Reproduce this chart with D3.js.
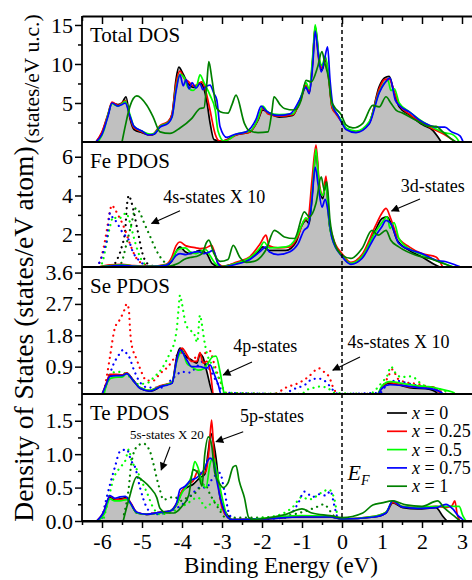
<!DOCTYPE html>
<html>
<head>
<meta charset="utf-8">
<script src="https://cdn.jsdelivr.net/npm/d3@7"></script>
<style>
  body { margin: 0; background: #fff; }
  svg { display: block; font-family: "Liberation Serif", "Times New Roman", serif; }
</style>
</head>
<body>
<svg id="chart" width="472" height="580"></svg>
<script>
'use strict'

// ---- data (binding energy in eV, DOS values) ----
const energyRange = [-6.5, 3.25]
const energyMajor = [-6, -5, -4, -3, -2, -1, 0, 1, 2, 3]
const energyMinor = [-6.5, -5.5, -4.5, -3.5, -2.5, -1.5, -0.5, 0.5, 1.5, 2.5]
const seriesLabels = ['0', '0.25', '0.5', '0.75', '1']

// Total DOS
const totX0 = [[-6.15,0],[-6.0,1.2],[-5.85,3.5],[-5.75,5.0],[-5.6,4.8],[-5.5,5.0],[-5.4,5.8],[-5.3,3.0],[-5.2,1.6],[-5.0,1.2],[-4.8,0.9],[-4.7,1.0],[-4.55,2.0],[-4.35,2.6],[-4.25,3.5],[-4.15,8.0],[-4.08,9.6],[-3.98,8.8],[-3.85,7.5],[-3.7,7.0],[-3.55,7.6],[-3.45,6.8],[-3.38,5.2],[-3.3,2.5],[-3.2,0.3],[-3.0,0.1],[-2.65,0.9],[-2.3,1.3],[-2.1,2.8],[-1.98,4.1],[-1.82,3.7],[-1.57,3.2],[-1.23,3.4],[-1.02,5.8],[-0.9,7.1],[-0.82,6.3],[-0.73,10.5],[-0.67,14.8],[-0.57,10.5],[-0.5,9.2],[-0.42,10.5],[-0.33,8.4],[-0.25,4.5],[-0.15,3.7],[0,2.6],[0.1,1.75],[0.35,1.3],[0.68,2.4],[0.93,7.1],[1.06,8.2],[1.18,8.4],[1.31,6.2],[1.43,4.5],[1.68,3.5],[2.02,2.2],[2.27,1.5],[2.39,0.7],[2.48,0]]
const totX025 = [[-6.15,0],[-6.0,1.3],[-5.85,3.6],[-5.75,5.1],[-5.6,4.7],[-5.5,5.0],[-5.42,5.3],[-5.3,3.2],[-5.2,1.8],[-5.0,1.3],[-4.8,0.9],[-4.7,1.1],[-4.55,2.1],[-4.35,2.6],[-4.25,3.6],[-4.15,7.5],[-4.05,9.1],[-3.95,8.2],[-3.85,7.8],[-3.72,7.2],[-3.6,7.4],[-3.5,7.7],[-3.4,6.4],[-3.3,4.1],[-3.17,1.0],[-3.05,0.1],[-2.85,0.3],[-2.65,0.9],[-2.3,1.3],[-2.1,2.9],[-1.98,4.3],[-1.85,3.6],[-1.57,3.3],[-1.23,3.5],[-1.02,5.6],[-0.9,7.3],[-0.82,6.5],[-0.73,10.8],[-0.67,14.6],[-0.57,10.2],[-0.5,9.5],[-0.42,10.8],[-0.33,8.0],[-0.25,4.4],[-0.15,3.6],[0,2.5],[0.1,1.7],[0.35,1.3],[0.68,2.5],[0.93,6.8],[1.06,8.0],[1.18,8.1],[1.31,6.4],[1.43,4.8],[1.68,3.6],[2.02,2.4],[2.3,1.6],[2.55,1.0],[2.7,0.5],[2.83,0]]
const totX05 = [[-6.1,0],[-5.95,1.5],[-5.85,3.5],[-5.75,4.9],[-5.6,4.6],[-5.5,4.9],[-5.42,5.2],[-5.3,3.5],[-5.2,2.0],[-5.0,1.4],[-4.8,1.0],[-4.7,1.1],[-4.55,2.0],[-4.35,2.5],[-4.25,3.2],[-4.15,6.8],[-4.05,8.7],[-3.95,8.3],[-3.85,7.0],[-3.72,6.6],[-3.62,7.4],[-3.55,8.6],[-3.45,7.6],[-3.3,6.0],[-3.17,4.1],[-3.1,1.4],[-2.95,0.1],[-2.8,0.4],[-2.65,1.0],[-2.3,1.4],[-2.1,3.0],[-1.98,4.6],[-1.85,3.8],[-1.57,3.5],[-1.23,3.6],[-1.02,5.9],[-0.9,7.6],[-0.82,6.8],[-0.73,11.2],[-0.67,15.0],[-0.57,10.8],[-0.5,9.8],[-0.42,11.0],[-0.33,8.4],[-0.25,4.8],[-0.15,3.8],[0,2.7],[0.1,1.8],[0.35,1.4],[0.68,2.6],[0.93,6.4],[1.06,7.6],[1.15,7.9],[1.22,6.6],[1.31,6.8],[1.43,5.0],[1.68,3.9],[2.02,2.6],[2.3,1.8],[2.55,1.2],[2.75,1.0],[2.85,0.6],[2.93,0]]
const totX075 = [[-6.15,0],[-6.0,1.0],[-5.85,3.3],[-5.75,5.0],[-5.6,4.6],[-5.5,4.8],[-5.42,5.0],[-5.3,3.3],[-5.2,2.0],[-5.0,1.4],[-4.85,0.9],[-4.7,1.0],[-4.55,1.9],[-4.35,2.4],[-4.25,3.2],[-4.15,6.5],[-4.05,8.6],[-3.97,7.2],[-3.9,8.0],[-3.82,6.8],[-3.75,7.6],[-3.65,6.9],[-3.55,7.5],[-3.48,6.7],[-3.4,7.1],[-3.3,7.3],[-3.2,6.2],[-3.13,5.4],[-3.05,2.0],[-2.88,0.6],[-2.67,1.0],[-2.4,1.3],[-2.15,2.9],[-2.02,4.6],[-1.9,4.0],[-1.6,3.4],[-1.3,3.6],[-1.05,5.5],[-0.9,7.0],[-0.82,6.2],[-0.73,10.0],[-0.67,14.2],[-0.6,11.5],[-0.52,9.0],[-0.44,10.5],[-0.36,12.2],[-0.3,8.0],[-0.22,4.5],[-0.1,3.4],[0,2.4],[0.1,1.6],[0.35,1.2],[0.68,2.3],[0.93,6.3],[1.06,7.5],[1.2,8.2],[1.33,5.4],[1.45,4.6],[1.7,3.8],[1.91,2.9],[2.2,2.1],[2.4,1.9],[2.57,1.9],[2.74,1.3],[2.95,0.8],[3.03,0]]
const totX1 = [[-5.5,0],[-5.42,2.0],[-5.3,4.6],[-5.13,5.9],[-4.88,4.7],[-4.72,3.2],[-4.55,1.3],[-4.3,1.1],[-4.05,1.8],[-3.76,3.0],[-3.55,4.3],[-3.45,4.4],[-3.38,7.5],[-3.33,10.3],[-3.25,8.0],[-3.13,4.3],[-2.97,3.75],[-2.85,3.7],[-2.75,4.8],[-2.65,6.0],[-2.44,2.4],[-2.33,1.5],[-2.1,1.2],[-1.85,1.3],[-1.75,4.0],[-1.7,5.8],[-1.55,4.8],[-1.44,4.3],[-1.19,4.1],[-1.02,5.4],[-0.9,7.9],[-0.77,7.7],[-0.61,9.6],[-0.5,11.6],[-0.44,10.3],[-0.33,8.0],[-0.27,5.4],[-0.19,4.5],[-0.02,3.5],[0.1,2.2],[0.27,1.8],[0.52,2.4],[0.77,4.7],[0.93,4.5],[1.1,5.8],[1.22,5.0],[1.35,4.1],[1.52,3.7],[1.85,2.8],[2.18,2.0],[2.35,2.0],[2.52,1.3],[2.77,0.25],[2.85,0]]

// Fe PDOS (3d, solid) and 4s x10 (dotted)
const feX0 = [[-6.1,0.3],[-5.8,0.38],[-5.5,0.4],[-5.2,0.35],[-4.8,0.33],[-4.4,0.4],[-4.26,0.6],[-4.15,1.1],[-4.05,1.35],[-3.92,1.1],[-3.8,1.0],[-3.65,1.1],[-3.55,1.17],[-3.45,1.1],[-3.38,1.0],[-3.25,0.5],[-3.05,0.32],[-2.85,0.4],[-2.65,0.49],[-2.3,0.75],[-2.1,1.1],[-1.98,1.35],[-1.82,1.17],[-1.4,1.17],[-1.15,1.6],[-1.02,2.38],[-0.9,2.72],[-0.82,2.55],[-0.73,4.44],[-0.65,6.33],[-0.57,4.44],[-0.48,3.84],[-0.4,4.8],[-0.32,2.55],[-0.22,1.7],[0,0.92],[0.22,0.49],[0.5,0.83],[0.83,2.2],[1.0,2.81],[1.13,2.9],[1.26,2.38],[1.38,1.69],[1.68,1.17],[2.0,0.83],[2.35,0.4],[2.45,0.3]]
const feX025 = [[-6.1,0.3],[-5.8,0.42],[-5.5,0.45],[-5.2,0.38],[-4.8,0.35],[-4.4,0.45],[-4.26,0.8],[-4.15,1.4],[-4.05,1.6],[-3.9,1.4],[-3.8,1.35],[-3.65,1.3],[-3.55,1.26],[-3.4,1.3],[-3.26,1.43],[-3.1,0.5],[-2.95,0.35],[-2.65,0.55],[-2.3,0.85],[-2.05,1.5],[-1.9,1.95],[-1.82,1.4],[-1.6,1.3],[-1.3,1.35],[-1.1,1.9],[-0.95,2.7],[-0.85,2.8],[-0.75,4.8],[-0.65,6.6],[-0.57,4.7],[-0.48,4.0],[-0.4,5.0],[-0.32,2.7],[-0.22,1.8],[0,1.0],[0.22,0.55],[0.5,0.95],[0.83,2.4],[1.0,3.1],[1.1,3.33],[1.22,2.8],[1.38,1.9],[1.68,1.35],[2.0,1.0],[2.35,0.83],[2.52,0.3]]
const feX05 = [[-6.1,0.3],[-5.8,0.38],[-5.5,0.42],[-5.2,0.36],[-4.8,0.34],[-4.4,0.42],[-4.26,0.65],[-4.15,1.1],[-4.05,1.25],[-3.92,1.3],[-3.8,1.1],[-3.65,1.0],[-3.5,1.15],[-3.4,1.2],[-3.3,0.9],[-3.15,0.45],[-3.0,0.33],[-2.65,0.5],[-2.3,0.8],[-2.05,1.3],[-1.95,1.6],[-1.82,1.3],[-1.4,1.35],[-1.15,1.8],[-1.0,2.5],[-0.9,2.85],[-0.82,2.7],[-0.73,4.5],[-0.65,6.4],[-0.57,4.5],[-0.48,4.0],[-0.4,4.6],[-0.32,2.6],[-0.22,1.6],[0,0.9],[0.22,0.5],[0.5,0.85],[0.83,2.1],[1.0,2.6],[1.13,2.9],[1.2,2.3],[1.3,2.6],[1.42,1.8],[1.68,1.25],[2.0,0.95],[2.35,0.65],[2.6,0.45],[2.8,0.3]]
const feX075 = [[-6.1,0.3],[-5.8,0.36],[-5.5,0.4],[-5.2,0.35],[-4.8,0.33],[-4.4,0.4],[-4.26,0.6],[-4.15,0.9],[-4.05,1.0],[-3.9,0.95],[-3.75,1.05],[-3.59,1.1],[-3.45,1.0],[-3.3,1.1],[-3.22,1.17],[-3.1,0.5],[-3.0,0.32],[-2.65,0.45],[-2.3,0.7],[-2.05,1.1],[-1.9,1.35],[-1.82,1.1],[-1.6,0.95],[-1.3,1.1],[-1.1,1.5],[-0.95,2.2],[-0.85,2.4],[-0.75,3.8],[-0.67,5.47],[-0.6,4.6],[-0.5,3.4],[-0.42,3.8],[-0.35,3.2],[-0.25,1.8],[0,0.85],[0.22,0.45],[0.5,0.75],[0.83,1.9],[1.0,2.4],[1.1,2.72],[1.22,2.55],[1.42,1.52],[1.7,1.2],[2.0,1.0],[2.35,0.66],[2.6,0.58],[2.85,0.4],[3.1,0.2]]
const feX1 = [[-4.4,0.3],[-4.22,0.4],[-4.09,0.5],[-3.95,0.7],[-3.8,0.8],[-3.65,0.85],[-3.5,1.0],[-3.38,1.6],[-3.33,1.7],[-3.2,1.0],[-3.05,0.6],[-2.85,0.7],[-2.72,1.43],[-2.55,0.8],[-2.4,0.55],[-2.2,0.6],[-1.9,1.2],[-1.69,2.2],[-1.44,1.86],[-1.19,1.78],[-0.94,3.15],[-0.82,2.9],[-0.65,3.6],[-0.52,4.96],[-0.44,4.27],[-0.38,4.7],[-0.3,2.72],[-0.18,1.52],[0,0.92],[0.22,0.75],[0.5,1.26],[0.75,2.2],[0.9,1.95],[1.1,2.2],[1.22,1.69],[1.42,1.35],[1.85,0.92],[2.18,0.75],[2.52,0.5],[2.78,0.3]]
const feS0 = [[-5.75,0.3],[-5.63,0.66],[-5.5,1.4],[-5.42,2.2],[-5.38,3.4],[-5.33,4.0],[-5.27,3.7],[-5.22,3.3],[-5.13,2.4],[-5.08,1.9],[-5.0,1.1],[-4.87,0.5],[-4.7,0.35]]
const feS025 = [[-6.15,0.3],[-6.05,0.6],[-5.95,1.4],[-5.88,2.2],[-5.8,3.2],[-5.76,3.5],[-5.68,3.3],[-5.6,3.0],[-5.5,2.6],[-5.42,2.2],[-5.3,1.5],[-5.15,0.8],[-4.95,0.45],[-4.7,0.32]]
const feS05 = [[-6.1,0.3],[-6.0,0.5],[-5.9,1.4],[-5.8,2.4],[-5.72,2.9],[-5.62,2.8],[-5.5,2.9],[-5.4,3.1],[-5.3,2.6],[-5.2,1.8],[-5.1,1.1],[-4.95,0.5],[-4.75,0.32]]
const feS075 = [[-6.15,0.3],[-6.05,0.6],[-5.95,1.2],[-5.88,1.7],[-5.8,3.1],[-5.72,2.8],[-5.62,2.6],[-5.55,2.3],[-5.45,2.0],[-5.33,1.7],[-5.25,1.2],[-5.05,0.6],[-4.85,0.35]]
const feS1 = [[-5.6,0.3],[-5.5,0.6],[-5.4,1.4],[-5.28,2.4],[-5.15,3.35],[-5.05,3.1],[-4.95,2.6],[-4.8,1.9],[-4.65,1.2],[-4.5,0.7],[-4.3,0.4],[-4.1,0.32]]

// Se PDOS (4p, solid) and 4s x10 (dotted)
const seX0 = [[-6.0,0.1],[-5.9,0.35],[-5.8,0.66],[-5.65,0.66],[-5.5,0.66],[-5.38,0.71],[-5.22,0.52],[-5.05,0.28],[-4.8,0.2],[-4.65,0.25],[-4.55,0.33],[-4.25,0.43],[-4.13,1.19],[-4.05,1.43],[-3.9,1.19],[-3.76,1.09],[-3.63,1.0],[-3.55,1.26],[-3.48,1.18],[-3.38,0.76],[-3.25,0.17],[-3.2,0.05],[0.85,0.05],[1.0,0.3],[1.14,0.42],[1.35,0.4],[1.68,0.3],[2.2,0.25],[2.35,0.17],[2.45,0.05]]
const seX025 = [[-6.0,0.1],[-5.9,0.4],[-5.8,0.68],[-5.65,0.68],[-5.5,0.66],[-5.38,0.72],[-5.22,0.5],[-5.05,0.3],[-4.8,0.22],[-4.55,0.35],[-4.25,0.45],[-4.13,1.1],[-4.0,1.43],[-3.88,1.25],[-3.76,1.05],[-3.63,1.05],[-3.55,1.3],[-3.47,1.0],[-3.38,1.05],[-3.3,0.8],[-3.2,0.05],[0.85,0.05],[1.0,0.32],[1.15,0.45],[1.4,0.4],[1.7,0.32],[2.27,0.32],[2.4,0.2],[2.5,0.05]]
const seX05 = [[-5.95,0.1],[-5.88,0.4],[-5.77,0.57],[-5.6,0.6],[-5.5,0.6],[-5.38,0.7],[-5.22,0.5],[-5.05,0.3],[-4.8,0.22],[-4.55,0.33],[-4.25,0.45],[-4.13,1.05],[-4.0,1.35],[-3.88,1.0],[-3.76,0.9],[-3.6,0.8],[-3.45,0.85],[-3.38,0.95],[-3.22,1.19],[-3.15,1.2],[-3.05,0.76],[-2.95,0.15],[-2.9,0.05],[0.85,0.05],[1.0,0.35],[1.2,0.47],[1.5,0.42],[1.9,0.35],[2.3,0.3],[2.6,0.22],[2.8,0.15],[2.85,0.05]]
const seX075 = [[-6.0,0.1],[-5.9,0.38],[-5.8,0.62],[-5.65,0.64],[-5.5,0.64],[-5.38,0.7],[-5.22,0.5],[-5.05,0.28],[-4.8,0.2],[-4.55,0.32],[-4.25,0.42],[-4.13,1.1],[-4.05,1.38],[-3.88,1.09],[-3.76,0.9],[-3.55,0.9],[-3.38,0.85],[-3.3,0.95],[-3.2,0.7],[-3.1,0.4],[-3.0,0.05],[0.85,0.05],[1.0,0.28],[1.2,0.38],[1.5,0.36],[1.9,0.3],[2.3,0.25],[2.5,0.15],[2.55,0.05]]
const seS025 = [[-5.95,0.2],[-5.88,0.62],[-5.8,1.19],[-5.68,2.0],[-5.55,2.26],[-5.45,2.5],[-5.38,2.7],[-5.33,2.55],[-5.3,2.0],[-5.27,1.6],[-5.13,1.1],[-5.05,0.85],[-4.88,0.5],[-4.72,0.5],[-4.55,0.7],[-4.35,0.9],[-4.15,1.2],[-4.0,1.3],[-3.8,1.1],[-3.6,1.2],[-3.4,1.3],[-3.3,1.35],[-3.2,1.0],[-3.05,0.5],[-2.9,0.15],[-1.7,0.12],[-1.4,0.3],[-1.05,0.45],[-0.85,0.6],[-0.57,0.85],[-0.45,0.75],[-0.32,0.6],[-0.2,0.25],[-0.1,0.12],[0.9,0.12],[1.0,0.3],[1.15,0.6],[1.26,0.82],[1.4,0.55],[1.6,0.45],[1.9,0.4],[2.2,0.3],[2.45,0.2],[2.6,0.12]]
const seS05 = [[-5.95,0.2],[-5.88,0.45],[-5.8,0.7],[-5.6,0.75],[-5.45,0.72],[-5.3,0.6],[-5.1,0.4],[-4.87,0.43],[-4.7,0.6],[-4.5,0.85],[-4.3,1.3],[-4.17,1.7],[-4.12,2.1],[-4.09,2.5],[-4.05,2.95],[-4.0,2.7],[-3.9,2.1],[-3.8,1.95],[-3.7,1.85],[-3.62,1.6],[-3.55,2.38],[-3.5,2.1],[-3.45,1.7],[-3.38,1.3],[-3.22,0.9],[-3.05,0.5],[-2.9,0.15],[-1.0,0.12],[-0.9,0.22],[-0.75,0.28],[-0.55,0.33],[-0.35,0.28],[-0.2,0.15],[0.7,0.12],[0.85,0.25],[1.0,0.45],[1.14,0.66],[1.22,0.9],[1.35,0.7],[1.48,0.6],[1.7,0.62],[1.85,0.55],[2.0,0.38],[2.35,0.28],[2.7,0.15]]
const seS075 = [[-5.95,0.2],[-5.8,0.7],[-5.72,0.95],[-5.6,1.2],[-5.47,1.38],[-5.4,1.3],[-5.33,1.2],[-5.2,0.8],[-5.05,0.45],[-4.85,0.3],[-4.5,0.3],[-4.2,0.6],[-4.0,0.75],[-3.8,0.73],[-3.65,0.88],[-3.47,1.05],[-3.3,0.8],[-3.1,0.4],[-2.95,0.15],[-1.4,0.12],[-1.3,0.2],[-0.9,0.4],[-0.73,0.55],[-0.52,0.55],[-0.35,0.4],[-0.2,0.2],[-0.1,0.12],[0.95,0.15],[1.1,0.35],[1.35,0.5],[1.55,0.45],[1.9,0.35],[2.3,0.25],[2.5,0.15]]

// Te PDOS (5p, solid) and 5s x20 (dotted)
const teX0 = [[-6.13,0],[-5.97,0.11],[-5.8,0.36],[-5.68,0.32],[-5.55,0.33],[-5.38,0.35],[-5.27,0.25],[-5.13,0.12],[-4.88,0.1],[-4.55,0.13],[-4.3,0.15],[-4.13,0.25],[-4.0,0.44],[-3.88,0.5],[-3.72,0.55],[-3.55,0.65],[-3.43,0.7],[-3.34,1.06],[-3.28,1.31],[-3.22,1.2],[-3.13,0.85],[-3.05,0.35],[-2.85,0.08],[-2.75,0.02],[-2.0,0.03],[-1.0,0.06],[-0.3,0.06],[0,0.03],[0.8,0.06],[1.1,0.12],[1.27,0.27],[1.52,0.2],[1.9,0.18],[2.35,0.2],[2.52,0.07],[2.62,0]]
const teX025 = [[-6.13,0],[-5.97,0.12],[-5.8,0.37],[-5.68,0.33],[-5.55,0.32],[-5.38,0.34],[-5.27,0.26],[-5.13,0.13],[-4.88,0.1],[-4.55,0.13],[-4.3,0.15],[-4.13,0.27],[-4.0,0.45],[-3.85,0.55],[-3.72,0.6],[-3.6,0.75],[-3.5,0.7],[-3.4,0.75],[-3.32,1.1],[-3.26,1.51],[-3.2,1.0],[-3.1,0.6],[-3.0,0.2],[-2.85,0.05],[-2.75,0.02],[-2.0,0.03],[-1.0,0.07],[-0.3,0.07],[0,0.03],[0.8,0.07],[1.1,0.13],[1.27,0.28],[1.5,0.22],[1.9,0.2],[2.35,0.22],[2.6,0.2],[2.75,0.23],[2.82,0.3],[2.88,0.1],[2.95,0]]
const teX05 = [[-6.1,0],[-5.95,0.1],[-5.8,0.33],[-5.68,0.3],[-5.55,0.3],[-5.38,0.32],[-5.27,0.24],[-5.13,0.12],[-4.88,0.1],[-4.55,0.12],[-4.3,0.15],[-4.13,0.25],[-4.0,0.42],[-3.85,0.55],[-3.75,0.7],[-3.68,0.89],[-3.6,0.8],[-3.5,0.58],[-3.4,0.5],[-3.3,0.85],[-3.22,0.95],[-3.1,0.65],[-2.97,0.28],[-2.85,0.05],[-2.75,0.02],[-2.0,0.04],[-1.0,0.08],[-0.3,0.07],[0,0.03],[0.8,0.07],[1.1,0.13],[1.27,0.3],[1.5,0.22],[1.9,0.2],[2.35,0.22],[2.7,0.22],[2.93,0.22],[3.02,0.08],[3.1,0]]
const teX075 = [[-6.13,0],[-5.97,0.12],[-5.8,0.38],[-5.68,0.34],[-5.55,0.36],[-5.42,0.37],[-5.3,0.28],[-5.13,0.13],[-4.88,0.1],[-4.55,0.13],[-4.3,0.15],[-4.13,0.28],[-4.05,0.47],[-3.92,0.52],[-3.8,0.6],[-3.63,0.65],[-3.47,0.75],[-3.3,0.94],[-3.22,0.9],[-3.13,0.6],[-3.0,0.25],[-2.85,0.05],[-2.75,0.02],[-2.0,0.03],[-1.0,0.06],[-0.3,0.06],[0,0.03],[0.8,0.06],[1.1,0.12],[1.27,0.3],[1.5,0.21],[1.9,0.19],[2.35,0.2],[2.6,0.25],[2.77,0.18],[2.9,0.08],[3.0,0.03],[3.05,0]]
const teX1 = [[-5.47,0],[-5.33,0.32],[-5.13,0.66],[-4.97,0.6],[-4.8,0.5],[-4.63,0.35],[-4.55,0.19],[-4.38,0.12],[-4.2,0.12],[-4.0,0.22],[-3.83,0.39],[-3.72,0.77],[-3.6,0.72],[-3.5,0.52],[-3.43,1.0],[-3.34,1.26],[-3.26,1.14],[-3.18,0.72],[-3.05,0.55],[-2.97,0.5],[-2.85,0.57],[-2.72,0.81],[-2.65,0.83],[-2.57,0.6],[-2.44,0.35],[-2.33,0.05],[-2.2,0.02],[-1.82,0.05],[-1.4,0.1],[-1.0,0.18],[-0.75,0.12],[-0.3,0.08],[0,0.05],[0.52,0.12],[0.77,0.24],[1.0,0.27],[1.26,0.3],[1.6,0.24],[2.0,0.22],[2.39,0.3],[2.55,0.2],[2.85,0.05],[2.95,0]]
const teS05 = [[-5.95,0.05],[-5.85,0.3],[-5.72,0.62],[-5.55,0.8],[-5.42,0.9],[-5.33,1.07],[-5.27,0.92],[-5.13,0.77],[-5.05,0.65],[-4.88,0.43],[-4.72,0.2],[-4.55,0.1],[-4.2,0.15],[-3.9,0.25],[-3.6,0.35],[-3.4,0.2],[-3.2,0.3],[-3.0,0.15],[-2.6,0.03],[-1.72,0.07],[-1.23,0.21],[-1.0,0.36],[-0.83,0.32],[-0.67,0.36],[-0.5,0.43],[-0.33,0.47],[-0.2,0.35],[-0.15,0.2],[-0.1,0]]
const teS075 = [[-6.0,0.05],[-5.88,0.36],[-5.68,0.8],[-5.55,1.04],[-5.38,1.07],[-5.27,0.9],[-5.17,0.8],[-5.05,0.5],[-4.88,0.2],[-4.7,0.1],[-4.3,0.15],[-3.93,0.28],[-3.75,0.4],[-3.55,0.5],[-3.4,0.5],[-3.22,0.65],[-3.05,0.72],[-2.95,0.48],[-2.8,0.08],[-2.6,0.02],[-1.4,0.05],[-1.1,0.26],[-0.94,0.44],[-0.73,0.36],[-0.57,0.4],[-0.4,0.38],[-0.29,0.45],[-0.2,0.25],[-0.12,0.05]]
const teS1 = [[-5.45,0.1],[-5.33,0.5],[-5.27,0.85],[-5.13,1.11],[-4.97,1.16],[-4.8,1.04],[-4.72,0.87],[-4.63,0.64],[-4.55,0.46],[-4.47,0.32],[-4.2,0.36],[-4.0,0.3],[-3.88,0.35],[-3.7,0.4],[-3.55,0.5],[-3.43,0.55],[-3.3,0.4],[-3.1,0.2],[-2.9,0.05],[-1.6,0.05],[-1.2,0.1],[-0.9,0.15],[-0.67,0.2],[-0.45,0.25],[-0.3,0.15],[-0.15,0.03]]

// ---- layout / style ----
const plotLeft = 82, plotRight = 472
const colors = ['#000000', '#ff0000', '#00ff00', '#0000ff', '#008000']

const panels = [
  { label: 'Total DOS', top: 16, bottom: 142, domain: [0, 16.15], major: [5, 10, 15], minor: [2.5, 7.5, 12.5], fmt: d => String(d),
    solid: [totX0, totX025, totX05, totX075, totX1], dotted: [] },
  { label: 'Fe PDOS', top: 142, bottom: 267, domain: [0.31, 6.76], major: [2, 4, 6], minor: [1, 3, 5], fmt: d => String(d),
    solid: [feX0, feX025, feX05, feX075, feX1], dotted: [feS0, feS025, feS05, feS075, feS1] },
  { label: 'Se PDOS', top: 267, bottom: 394, domain: [0.115, 3.76], major: [0.9, 1.8, 2.7, 3.6], minor: [0.45, 1.35, 2.25, 3.15], fmt: d3.format('.1f'),
    solid: [seX0, seX025, seX05, seX075, null], dotted: [null, seS025, seS05, seS075, null] },
  { label: 'Te PDOS', top: 394, bottom: 521, domain: [0, 1.9], major: [0, 0.5, 1, 1.5], minor: [0.25, 0.75, 1.25, 1.75], fmt: d3.format('.1f'),
    solid: [teX0, teX025, teX05, teX075, teX1], dotted: [null, null, teS05, teS075, teS1] }
]

// annotations in data coordinates of each panel: text position, arrow tail, arrow head
const notes = [
  { panel: 1, text: '4s-states X 10', size: 18, at: [-4.47, 3.61], from: [-4.05, 3.21], to: [-4.76, 2.56] },
  { panel: 1, text: '3d-states', size: 18, at: [1.47, 4.19], from: [1.95, 3.82], to: [1.24, 3.2] },
  { panel: 2, text: '4p-states', size: 18, at: [-2.72, 1.33], from: [-2.25, 1.03], to: [-2.97, 0.66] },
  { panel: 2, text: '4s-states X 10', size: 18, at: [0.14, 1.435], from: [0.45, 1.18], to: [-0.23, 0.8] },
  { panel: 3, text: '5p-states', size: 18, at: [-2.55, 1.486], from: [-2.47, 1.336], to: [-3.15, 1.186] },
  { panel: 3, text: '5s-states X 20', size: 13, at: [-5.3, 1.227], from: [-4.3, 1.11], to: [-4.52, 0.763] }
]

const svg = d3.select('#chart')
const xScale = d3.scaleLinear().domain(energyRange).range([plotLeft, plotRight])

const defs = svg.append('defs')
defs.append('marker')
  .attr('id', 'arrow')
  .attr('viewBox', '0 0 10 10')
  .attr('refX', 9).attr('refY', 5)
  .attr('markerUnits', 'userSpaceOnUse')
  .attr('markerWidth', 10).attr('markerHeight', 8)
  .attr('orient', 'auto')
  .append('path').attr('d', 'M0,0 L10,5 L0,10 z').attr('fill', '#000')

panels.forEach(function (p, i) {
  p.y = d3.scaleLinear().domain(p.domain).range([p.bottom, p.top])

  defs.append('clipPath').attr('id', 'clip' + i)
    .append('rect')
    .attr('x', plotLeft).attr('y', p.top)
    .attr('width', plotRight - plotLeft).attr('height', p.bottom - p.top)

  const g = svg.append('g').attr('clip-path', 'url(#clip' + i + ')')

  const line = d3.line()
    .x(d => xScale(d[0]))
    .y(d => p.y(d[1]))
    .curve(d3.curveMonotoneX)

  const area = d3.area()
    .x(d => xScale(d[0]))
    .y0(p.bottom)
    .y1(d => p.y(d[1]))
    .curve(d3.curveMonotoneX)

  // gray fill under x = 0
  g.append('path').datum(p.solid[0]).attr('d', area).attr('fill', '#c0c0c0')

  // dotted (s-states, scaled)
  p.dotted.forEach(function (s, k) {
    if (!s) return
    g.append('path').datum(s)
      .attr('d', line)
      .attr('fill', 'none')
      .attr('stroke', colors[k])
      .attr('stroke-width', 2.2)
      .attr('stroke-linecap', 'round')
      .attr('stroke-dasharray', '0.1 5.5')
  })

  // solid lines
  p.solid.forEach(function (s, k) {
    if (!s) return
    g.append('path').datum(s)
      .attr('d', line)
      .attr('fill', 'none')
      .attr('stroke', colors[k])
      .attr('stroke-width', 1.7)
      .attr('stroke-linejoin', 'round')
  })

  // left axis: major + minor ticks
  const yAxis = svg.append('g').attr('transform', 'translate(' + plotLeft + ',0)')
    .call(d3.axisLeft(p.y).tickValues(p.major).tickFormat(p.fmt).tickSize(7).tickSizeOuter(0).tickPadding(2))
  yAxis.select('.domain').remove()
  yAxis.selectAll('text').attr('font-size', 22).attr('font-family', '"Liberation Serif", serif').attr('fill', '#000')
  yAxis.selectAll('line').attr('stroke-width', 1.5)

  const yMinor = svg.append('g').attr('transform', 'translate(' + plotLeft + ',0)')
    .call(d3.axisLeft(p.y).tickValues(p.minor).tickFormat('').tickSize(4).tickSizeOuter(0))
  yMinor.select('.domain').remove()
  yMinor.selectAll('line').attr('stroke-width', 1.5)

  // panel separator line (bottom edge)
  svg.append('line')
    .attr('x1', plotLeft).attr('x2', plotRight)
    .attr('y1', p.bottom).attr('y2', p.bottom)
    .attr('stroke', '#000').attr('stroke-width', 1.8)

  svg.append('text')
    .attr('x', plotLeft + 8).attr('y', p.top + 26)
    .attr('font-size', 21)
    .text(p.label)
})

// top frame with inward ticks
const topAxis = svg.append('g').attr('transform', 'translate(0,' + panels[0].top + ')')
  .call(d3.axisBottom(xScale).tickValues(energyMajor).tickFormat('').tickSize(8).tickSizeOuter(0))
topAxis.selectAll('line').attr('stroke-width', 1.5)
topAxis.select('.domain').attr('stroke-width', 1.8)
const topMinor = svg.append('g').attr('transform', 'translate(0,' + panels[0].top + ')')
  .call(d3.axisBottom(xScale).tickValues(energyMinor).tickFormat('').tickSize(5).tickSizeOuter(0))
topMinor.select('.domain').remove()
topMinor.selectAll('line').attr('stroke-width', 1.5)

// bottom axis
const bottomY = panels[3].bottom
const xAxis = svg.append('g').attr('transform', 'translate(0,' + bottomY + ')')
  .call(d3.axisBottom(xScale).tickValues(energyMajor).tickFormat(d => String(d)).tickSize(7).tickSizeOuter(0).tickPadding(5))
xAxis.select('.domain').attr('stroke-width', 1.8)
xAxis.selectAll('line').attr('stroke-width', 1.5)
xAxis.selectAll('text').attr('font-size', 22).attr('font-family', '"Liberation Serif", serif').attr('fill', '#000')
const xMinor = svg.append('g').attr('transform', 'translate(0,' + bottomY + ')')
  .call(d3.axisBottom(xScale).tickValues(energyMinor).tickFormat('').tickSize(4).tickSizeOuter(0))
xMinor.select('.domain').remove()
xMinor.selectAll('line').attr('stroke-width', 1.5)

// left frame
svg.append('line')
  .attr('x1', plotLeft).attr('x2', plotLeft)
  .attr('y1', panels[0].top).attr('y2', bottomY)
  .attr('stroke', '#000').attr('stroke-width', 1.8)

// Fermi level
svg.append('line')
  .attr('x1', xScale(0)).attr('x2', xScale(0))
  .attr('y1', panels[0].top).attr('y2', bottomY)
  .attr('stroke', '#000').attr('stroke-width', 1.5)
  .attr('stroke-dasharray', '4 3')

const ef = svg.append('text')
  .attr('x', xScale(0.14)).attr('y', panels[3].y(0.613))
  .attr('font-size', 22).attr('font-style', 'italic')
ef.append('tspan').text('E')
ef.append('tspan').attr('font-size', 14).attr('dy', 5).text('F')

// annotations
notes.forEach(function (n) {
  const p = panels[n.panel]
  svg.append('text')
    .attr('x', xScale(n.at[0])).attr('y', p.y(n.at[1]))
    .attr('font-size', n.size)
    .text(n.text)
  svg.append('line')
    .attr('x1', xScale(n.from[0])).attr('y1', p.y(n.from[1]))
    .attr('x2', xScale(n.to[0])).attr('y2', p.y(n.to[1]))
    .attr('stroke', '#000').attr('stroke-width', 1.1)
    .attr('marker-end', 'url(#arrow)')
})

// legend
const legend = svg.append('g').attr('transform', 'translate(387,413)')
seriesLabels.forEach(function (lab, k) {
  const row = legend.append('g').attr('transform', 'translate(0,' + (k * 18.3) + ')')
  row.append('line').attr('x1', 0).attr('x2', 20).attr('y1', 0).attr('y2', 0)
    .attr('stroke', colors[k]).attr('stroke-width', 1.7)
  const t = row.append('text').attr('x', 25).attr('y', 6).attr('font-size', 18)
  t.append('tspan').attr('font-style', 'italic').text('x')
  t.append('tspan').text(' = ' + lab)
})

// axis titles
svg.append('text')
  .attr('transform', 'translate(33,334) rotate(-90)')
  .attr('text-anchor', 'middle')
  .attr('font-size', 27.5)
  .text('Density of States (states/eV atom)')

svg.append('text')
  .attr('transform', 'translate(39,79) rotate(-90)')
  .attr('text-anchor', 'middle')
  .attr('font-size', 21.5)
  .text('(states/eV u.c.)')

svg.append('text')
  .attr('x', 281).attr('y', 573)
  .attr('text-anchor', 'middle')
  .attr('font-size', 23)
  .text('Binding Energy (eV)')
</script>
</body>
</html>
